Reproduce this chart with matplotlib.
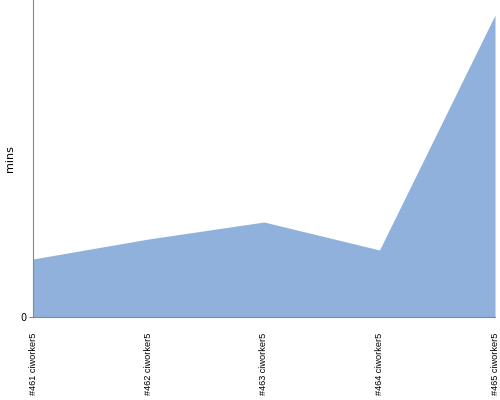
import matplotlib
matplotlib.use("Agg")
import matplotlib.pyplot as plt

categories = ["#461 ciworker5", "#462 ciworker5", "#463 ciworker5", "#464 ciworker5", "#465 ciworker5"]
values = [5.8, 7.8, 9.5, 6.7, 30.2]
y_max = 31.7

fig = plt.figure(figsize=(5, 4), dpi=100)
ax = fig.add_axes([0.066, 0.2075, 0.924, 0.7925])
x = list(range(len(categories)))
ax.fill_between(x, 0, values, color="#8fb1db", linewidth=0)
ax.set_xlim(0, len(categories) - 1)
ax.set_ylim(0, y_max)
ax.set_xticks(x)
ax.set_xticklabels(categories, rotation=90, fontsize=6.6, va="top", ha="center",
                   family=["Liberation Sans", "DejaVu Sans"])
ax.set_yticks([0])
ax.set_yticklabels(["0"], fontsize=7)
ax.tick_params(axis="x", length=0, pad=11)
ax.tick_params(axis="y", length=3, color="#888888", pad=2)
for s in ["top", "right"]:
    ax.spines[s].set_visible(False)
for s in ["left", "bottom"]:
    ax.spines[s].set_color("#888888")
    ax.spines[s].set_linewidth(0.8)
ax.set_ylabel("mins", fontsize=8)
ax.yaxis.set_label_coords(-0.04, 0.5)
fig.savefig("out.png", dpi=100)
